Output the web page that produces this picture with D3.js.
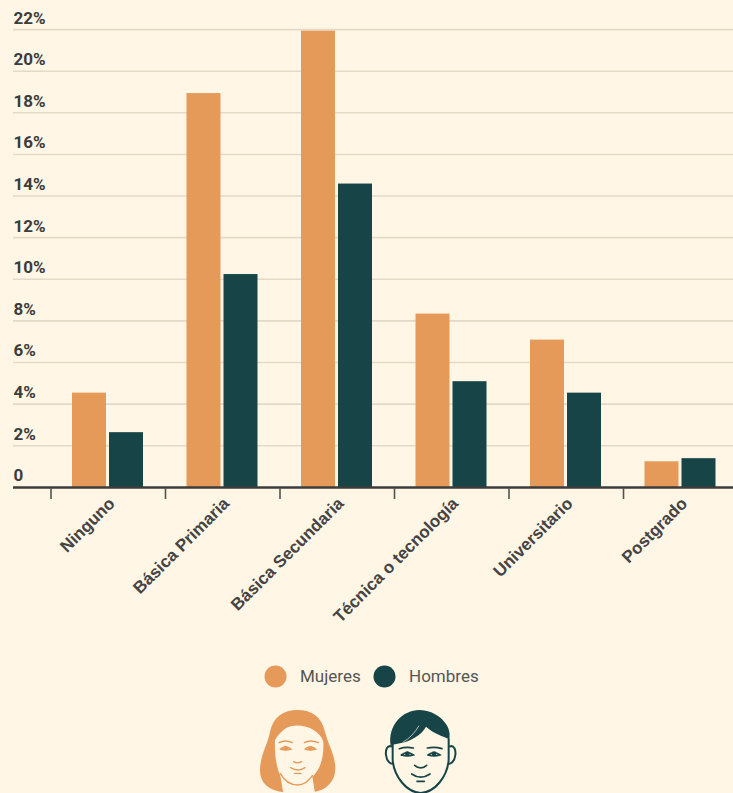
<!DOCTYPE html>
<html><head><meta charset="utf-8">
<script src="https://cdn.jsdelivr.net/npm/d3@7"></script>
<style>
html,body{margin:0;padding:0;background:#fff6e5;overflow:hidden}
svg{display:block}
text{font-family:Roboto,sans-serif}
</style></head><body>
<svg id="c" width="733" height="793"></svg>
<script>
const categories=["Ninguno","Básica Primaria","Básica Secundaria","Técnica o tecnología","Universitario","Postgrado"];
const seriesNames=["Mujeres","Hombres"];
const mujeres=[4.55,18.95,21.95,8.35,7.1,1.25];
const hombres=[2.65,10.25,14.6,5.1,4.55,1.4];
const yTicks=[0,2,4,6,8,10,12,14,16,18,20,22];
const colors=["#e69a5a","#174446"];

const svg=d3.select("#c");
const y=d3.scaleLinear().domain([0,22]).range([487.3,29.6]);
const x=d3.scaleBand().domain(categories).range([51,738]);
const xs=d3.scaleBand().domain(seriesNames).range([21,92]).paddingInner(0.081);

svg.append("g").selectAll("line").data(yTicks.filter(d=>d>0)).join("line")
 .attr("x1",13).attr("x2",733).attr("y1",d=>y(d)).attr("y2",d=>y(d))
 .attr("stroke","#e3d9c6").attr("stroke-width",1.6);
svg.append("g").selectAll("text").data(yTicks).join("text")
 .attr("x",13.5).attr("y",d=>y(d)-6).text(d=>d===0?"0":d+"%")
 .attr("font-size",17).attr("font-weight",700).attr("fill","#3c3c3c");
[mujeres,hombres].forEach((vals,s)=>{
 svg.append("g").selectAll("rect").data(vals).join("rect")
  .attr("x",(d,i)=>x(categories[i])+xs(seriesNames[s]))
  .attr("width",xs.bandwidth())
  .attr("y",d=>y(d)).attr("height",d=>y(0)-y(d))
  .attr("fill",colors[s]);
});
svg.append("line").attr("x1",13).attr("x2",733).attr("y1",487.5).attr("y2",487.5)
 .attr("stroke","#3c3c3c").attr("stroke-width",2.6);
svg.append("g").selectAll("line").data(categories).join("line")
 .attr("x1",d=>x(d)).attr("x2",d=>x(d)).attr("y1",488).attr("y2",499)
 .attr("stroke","#55534f").attr("stroke-width",1.6);
svg.append("g").selectAll("text").data(categories).join("text")
 .attr("text-anchor","end")
 .attr("transform",d=>`translate(${x(d)+x.bandwidth()/2-1},496) rotate(-45)`)
 .attr("dy","0.71em")
 .style("font-family","'Liberation Sans',Arial,sans-serif")
 .text(d=>d).attr("font-size",17).attr("font-weight",700).attr("fill","#444");
const lx=[275.5,384.5], ltx=[300,409];
seriesNames.forEach((n,i)=>{
 svg.append("circle").attr("cx",lx[i]).attr("cy",676.5).attr("r",11).attr("fill",colors[i]);
 svg.append("text").attr("x",ltx[i]).attr("y",682).text(n).attr("font-size",17).attr("fill","#555");
});
const bg="#fff6e5";
const w=svg.append("g").attr("transform","translate(255,705) scale(0.3333)");
w.append("path").attr("fill",colors[0]).attr("d","M128 15C85 15 55 35 45 80C38 120 15 150 15 195C15 235 40 255 85 262L175 262C215 255 241 230 241 190C241 150 220 120 210 80C200 35 170 15 128 15Z");
w.append("path").attr("fill",bg).attr("d","M60 105C75 80 95 62 120 62C160 60 195 80 205 110C207 160 195 195 172 215L180 264L85 264L76 212C65 190 58 150 60 105Z");
const ws=w.append("g").attr("fill","none").attr("stroke",colors[0]).attr("stroke-width",4).attr("stroke-linecap","round");
ws.append("path").attr("d","M76 205C90 230 110 240 128 240C148 240 160 230 172 212");
ws.append("path").attr("d","M72 113Q90 103 112 113M148 113Q165 103 190 113");
ws.append("path").attr("d","M76 132Q92 120 108 132Q92 137 76 132M150 132Q166 120 182 132Q166 137 150 132");
ws.append("path").attr("d","M116 170Q128 177 140 170");
ws.append("path").attr("d","M107 188Q128 202 150 188M118 205L138 205");
w.append("circle").attr("cx",92).attr("cy",130).attr("r",7).attr("fill",colors[0]);
w.append("circle").attr("cx",166).attr("cy",130).attr("r",7).attr("fill",colors[0]);

const m=svg.append("g").attr("transform","translate(380,705) scale(0.3333)");
m.append("path").attr("fill",bg).attr("stroke",colors[1]).attr("stroke-width",6).attr("d","M36 125C22 118 16 135 18 150C20 170 33 180 42 175M208 125C222 118 228 135 226 150C224 170 211 180 202 175");
m.append("path").attr("fill",bg).attr("stroke",colors[1]).attr("stroke-width",6).attr("d","M38 105L38 165C42 215 80 262 122 264C165 262 202 215 206 165L206 100");
m.append("path").attr("fill",colors[1]).attr("d","M32 122C22 60 70 15 118 15C170 15 218 60 208 102C190 95 160 85 138 65C125 90 90 110 60 115C50 117 40 118 32 122Z");
m.append("path").attr("fill","none").attr("stroke",bg).attr("stroke-width",2).attr("d","M68 112C90 100 105 82 117 62");
const ms=m.append("g").attr("fill","none").attr("stroke",colors[1]).attr("stroke-width",5).attr("stroke-linecap","round");
ms.append("path").attr("d","M58 131Q78 124 100 129M142 129Q165 124 186 131");
ms.append("path").attr("d","M64 150Q82 136 100 150Q82 155 64 150M144 150Q162 136 180 150Q162 155 144 150");
ms.append("path").attr("d","M104 181Q122 197 140 181");
ms.append("path").attr("d","M95 207Q122 226 150 207M111 229L133 229");
m.append("circle").attr("cx",82).attr("cy",146).attr("r",7).attr("fill",colors[1]);
m.append("circle").attr("cx",162).attr("cy",146).attr("r",7).attr("fill",colors[1]);
</script></body></html>
